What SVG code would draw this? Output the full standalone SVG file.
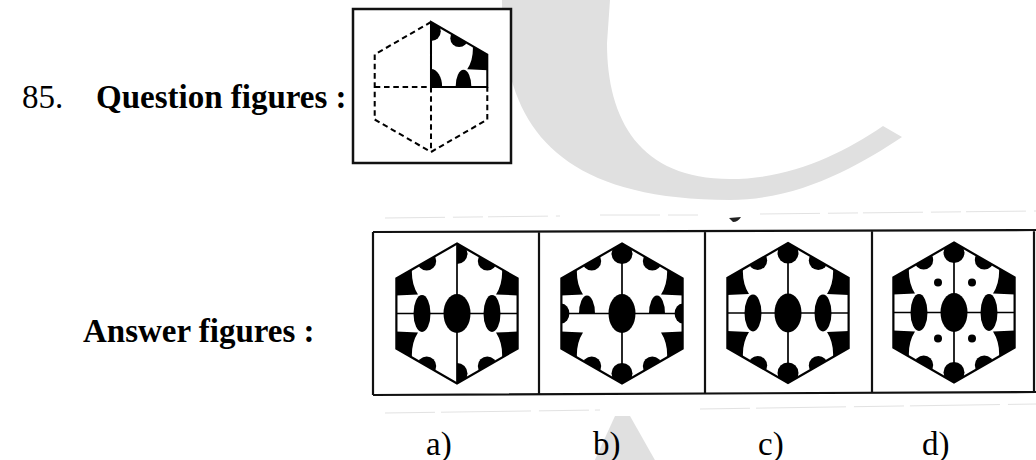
<svg xmlns="http://www.w3.org/2000/svg" xmlns:xlink="http://www.w3.org/1999/xlink" width="1036" height="460" viewBox="0 0 1036 460">
<style>
.wm{fill:#e0e0e0}
.f{fill:#000}
.hex{fill:none;stroke:#000;stroke-width:2.2;stroke-linejoin:miter}
.in{stroke:#000;stroke-width:1.7;fill:none}
.dash{fill:none;stroke:#000;stroke-width:2.2;stroke-dasharray:6 4}
.box{fill:none;stroke:#111;stroke-width:2.2}
.t{font-family:"Liberation Serif","Times New Roman",serif;font-size:33px;fill:#000}
.b{font-weight:bold}
.scan{stroke:#e2e2e2;stroke-width:1;fill:none}
</style>
<defs>
<clipPath id="cHex"><polygon points="0,-70 60.62,-35 60.62,35 0,70 -60.62,35 -60.62,-35"/></clipPath>
<clipPath id="cHexR"><polygon points="0,-70 60.62,-35 60.62,35 0,70"/></clipPath>
<clipPath id="cUp"><rect x="-80" y="-80" width="160" height="80"/></clipPath>
<clipPath id="cQ"><polygon points="0,-70 60.62,-35 60.62,0 0,0"/></clipPath>
<path id="corner" d="M-62,-36 L-45,-45 Q-46,-30 -39,-19 L-62,-18 Z"/>
<polygon id="hexo" points="0,-70 60.62,-35 60.62,35 0,70 -60.62,35 -60.62,-35"/>
<g id="corners">
<use xlink:href="#corner"/>
<use xlink:href="#corner" transform="scale(-1,1)"/>
<use xlink:href="#corner" transform="scale(1,-1)"/>
<use xlink:href="#corner" transform="scale(-1,-1)"/>
<circle cx="30.31" cy="-52.5" r="9.5"/>
<circle cx="-30.31" cy="-52.5" r="9.5"/>
<circle cx="30.31" cy="52.5" r="9.5"/>
<circle cx="-30.31" cy="52.5" r="9.5"/>
</g>
<g id="caps">
<circle cx="0" cy="-60" r="10.5"/>
<circle cx="0" cy="60" r="10.5"/>
</g>
<g id="frame">
<use xlink:href="#hexo" class="hex"/>
<line class="in" x1="0" y1="-70" x2="0" y2="70"/>
<line class="in" x1="-60.62" y1="0" x2="60.62" y2="0"/>
</g>
</defs>

<g id="watermark">
<path class="wm" d="M502,0 C502,110 540,200 730,200 C800,200 860,165 902,137 L883,126 C840,155 790,179 730,179 C640,179 607,120 607,43 L610,0 Z"/>
<path class="wm" d="M615,416 L630,416 L656,462 L594,462 Z"/>
</g>

<g id="scan-marks">
<path class="scan" d="M385,218 L560,216 M600,215 L700,215 M760,214 L1036,211" stroke-dasharray="60 8 30 5"/>
<path class="scan" d="M385,413 L600,410 M700,409 L1036,404" stroke-dasharray="50 6 90 8"/>
<path d="M729,218 L741,217 Q738,222 733,222 Z" fill="#222"/>
</g>

<g id="labels">
<text class="t" x="22" y="108">85.</text>
<text class="t b" x="96" y="108">Question figures :</text>
<text class="t b" x="83" y="342">Answer figures :</text>
<text class="t" x="426" y="455">a)</text>
<text class="t" x="593" y="455">b)</text>
<text class="t" x="758" y="455">c)</text>
<text class="t" x="922" y="455">d)</text>
</g>

<g id="question-box">
<rect x="353" y="9" width="158" height="154" fill="#fff" stroke="#111" stroke-width="2.5"/>
</g>

<g id="question-figure" transform="translate(431,87) scale(0.9286)">
<g clip-path="url(#cQ)" class="f">
<use xlink:href="#corner" transform="scale(-1,1)"/>
<circle cx="30.31" cy="-52.5" r="9.5"/>
<circle cx="0" cy="-60" r="10.5"/>
<ellipse cx="0" cy="0" rx="12" ry="19.5"/>
<ellipse cx="35" cy="0" rx="8.5" ry="18.5"/>
</g>
<path class="hex" d="M0,-70 L60.62,-35 L60.62,0 L0,0 Z"/>
<path class="dash" d="M0,-70 L-60.62,-35 L-60.62,35 L0,70 L60.62,35 L60.62,0 M0,0 L0,70 M-60.62,0 L0,0"/>
</g>

<g id="answer-boxes">
<path class="box" d="M373,232 L1036,230 M373,395 L1036,392 M373,232 L373,395 M539,232 L539,394 M705,231 L705,394 M872,231 L872,393 M1034,230 L1034,392"/>
</g>

<g id="answer-a" transform="translate(457,313.5)">
<g clip-path="url(#cHex)" class="f"><use xlink:href="#corners"/></g>
<g clip-path="url(#cHexR)" class="f"><use xlink:href="#caps"/></g>
<g class="f">
<ellipse cx="0" cy="0" rx="13.5" ry="19.5"/>
<ellipse cx="-35" cy="0" rx="8.5" ry="18.5"/>
<ellipse cx="35" cy="0" rx="8.5" ry="18.5"/>
</g>
<use xlink:href="#frame"/>
</g>

<g id="answer-b" transform="translate(622,313.5)">
<g clip-path="url(#cHex)" class="f">
<use xlink:href="#corners"/>
<use xlink:href="#caps"/>
<ellipse cx="-60.62" cy="0" rx="8" ry="10"/>
<ellipse cx="60.62" cy="0" rx="8" ry="10"/>
</g>
<g clip-path="url(#cUp)" class="f">
<ellipse cx="-35" cy="0" rx="8" ry="18"/>
<ellipse cx="35" cy="0" rx="8" ry="18"/>
</g>
<ellipse class="f" cx="0" cy="0" rx="13.5" ry="19.5"/>
<use xlink:href="#frame"/>
</g>

<g id="answer-c" transform="translate(788,313)">
<g clip-path="url(#cHex)" class="f">
<use xlink:href="#corners"/>
<use xlink:href="#caps"/>
</g>
<g class="f">
<ellipse cx="0" cy="0" rx="13.5" ry="19.5"/>
<ellipse cx="-35" cy="0" rx="8.5" ry="18.5"/>
<ellipse cx="35" cy="0" rx="8.5" ry="18.5"/>
</g>
<use xlink:href="#frame"/>
</g>

<g id="answer-d" transform="translate(954,312.5)">
<g clip-path="url(#cHex)" class="f">
<use xlink:href="#corners"/>
<use xlink:href="#caps"/>
</g>
<g class="f">
<ellipse cx="0" cy="0" rx="13.5" ry="19.5"/>
<ellipse cx="-35" cy="0" rx="8.5" ry="18.5"/>
<ellipse cx="35" cy="0" rx="8.5" ry="18.5"/>
<circle cx="-16" cy="-30" r="4"/>
<circle cx="18" cy="-30" r="4"/>
<circle cx="-16" cy="26" r="4"/>
<circle cx="18" cy="26" r="4"/>
</g>
<use xlink:href="#frame"/>
</g>
</svg>
